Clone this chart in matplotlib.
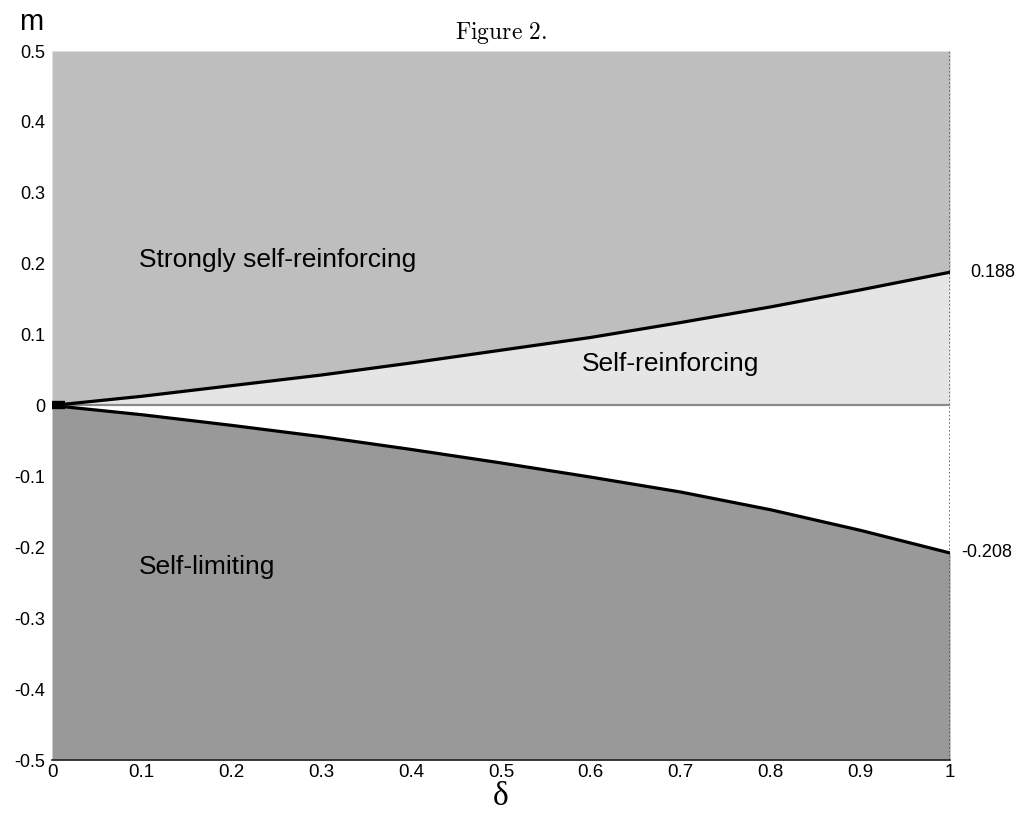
import numpy as np
import matplotlib
matplotlib.use("Agg")
import matplotlib.pyplot as plt

plt.rcParams["mathtext.fontset"] = "cm"

# boundary curves
delta = [0.0, 0.1, 0.2, 0.3, 0.4, 0.5, 0.6, 0.7, 0.8, 0.9, 1.0]
m_upper = [0.0, 0.013, 0.028, 0.043, 0.060, 0.078, 0.096, 0.117, 0.139, 0.163, 0.188]
m_lower = [0.0, -0.013, -0.028, -0.044, -0.062, -0.081, -0.101, -0.122, -0.147, -0.176, -0.208]

end_labels = ["0.188", "-0.208"]
x_ticks = [0, 0.1, 0.2, 0.3, 0.4, 0.5, 0.6, 0.7, 0.8, 0.9, 1]
y_ticks = [-0.5, -0.4, -0.3, -0.2, -0.1, 0, 0.1, 0.2, 0.3, 0.4, 0.5]

C_STRONG = "#bebebe"
C_SELF = "#e5e5e5"
C_LIMIT = "#999999"

fig = plt.figure(figsize=(10.22, 8.21), dpi=100, facecolor="white")
ax = fig.add_axes([52 / 1022, 1 - 760 / 821, 898 / 1022, 709 / 821])

x = np.array(delta)
up = np.array(m_upper)
lo = np.array(m_lower)

ax.fill_between(x, up, 0.5, color=C_STRONG, lw=0)
ax.fill_between(x, 0, up, color=C_SELF, lw=0)
ax.fill_between(x, -0.5, lo, color=C_LIMIT, lw=0)

ax.axhline(0, color="#8a8a8a", lw=1.6, zorder=3)
ax.plot(x, up, color="black", lw=2.3, zorder=4)
ax.plot(x, lo, color="black", lw=2.3, zorder=4)
# thick blob where the two curves meet at the origin
ax.plot([0, 0.014], [0, 0], color="black", lw=6, solid_capstyle="butt", zorder=5)

# dotted right edge
ax.axvline(1, color="#444444", lw=1.1, ls=(0, (1, 1.5)), zorder=2)

ax.set_xlim(0, 1)
ax.set_ylim(-0.5, 0.5)
for side in ["top", "right", "left"]:
    ax.spines[side].set_visible(False)
ax.spines["bottom"].set_color("#222222")
ax.spines["bottom"].set_linewidth(1.2)
ax.spines["bottom"].set_zorder(6)

ax.set_xticks(x_ticks)
ax.set_xticklabels([f"{t:g}" for t in x_ticks],
                   family=["Liberation Sans Narrow", "Liberation Sans"], fontsize=13.5)
ax.set_yticks(y_ticks)
ax.set_yticklabels([f"{t:g}" for t in y_ticks], family="Liberation Sans", fontsize=13)
ax.tick_params(axis="y", length=0, pad=5)
ax.tick_params(axis="x", length=0, pad=3)

ax.text(0.097, 0.205, "Strongly self-reinforcing", family="Liberation Sans",
        fontsize=19, va="center", ha="left")
ax.text(0.590, 0.058, "Self-reinforcing", family="Liberation Sans",
        fontsize=19, va="center", ha="left")
ax.text(0.097, -0.228, "Self-limiting", family="Liberation Sans",
        fontsize=19, va="center", ha="left")

ax.text(1.022, m_upper[-1], end_labels[0], family="Liberation Sans",
        fontsize=13, va="center", ha="left", clip_on=False)
ax.text(1.013, m_lower[-1], end_labels[1], family="Liberation Sans",
        fontsize=13, va="center", ha="left", clip_on=False)

ax.set_xlabel("δ", family="Liberation Serif", fontsize=24, labelpad=0)
fig.text(31 / 1022, 1 - 22 / 821, "m", family="Liberation Sans", fontsize=21,
         ha="center", va="center")
ax.set_title(r"$\mathrm{Figure\ 2.}$", fontsize=17, pad=9)

fig.savefig("out.png", dpi=100)
